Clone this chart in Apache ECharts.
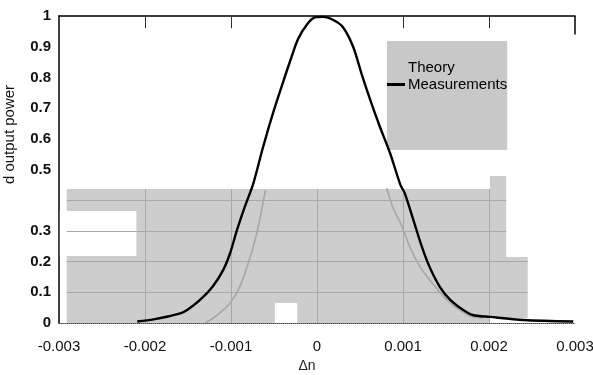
<!DOCTYPE html>
<html>
<head>
    <meta charset="utf-8">
    <script src="https://cdn.jsdelivr.net/npm/echarts@6.0.0/dist/echarts.min.js"></script>
</head>
<body style="margin:0">
<div id="main" style="width:593px;height:375px"></div>
<script type="text/javascript">
    // measured curve (black)
    var measDn = [-0.00209, -0.00190, -0.00172, -0.00158, -0.00151, -0.00136, -0.00121, -0.00109,
        -0.00101, -0.00093, -0.00084, -0.00074, -0.00063, -0.00051, -0.00040, -0.00031, -0.00022,
        -0.00011, -0.00002, 0.00007, 0.00019, 0.00030, 0.00042, 0.00052, 0.00062, 0.00073, 0.00085,
        0.00097, 0.00102, 0.00112, 0.00122, 0.00131, 0.00143, 0.00155, 0.00170, 0.00181, 0.00201,
        0.00240, 0.00298];
    var measPower = [0.005, 0.012, 0.022, 0.032, 0.042, 0.075, 0.12, 0.173,
        0.228, 0.303, 0.378, 0.455, 0.57, 0.685, 0.78, 0.855, 0.925,
        0.975, 0.996, 0.997, 0.987, 0.964, 0.9, 0.81, 0.726, 0.64, 0.553,
        0.45, 0.423, 0.336, 0.248, 0.182, 0.117, 0.075, 0.042, 0.026, 0.02,
        0.01, 0.005];

    // theory curve (grey), only the parts that show in the scan
    var theoryDn = [-0.0013, -0.00116, -0.00101, -0.0009, -0.0008, -0.00072, -0.00066, -0.0006,
        0,
        0.00081, 0.00088, 0.00099, 0.00108, 0.0012, 0.00134, 0.00151, 0.00166, 0.00181, 0.00193];
    var theoryPower = [0, 0.026, 0.065, 0.117, 0.195, 0.27, 0.345, 0.433,
        '-',
        0.44, 0.378, 0.313, 0.248, 0.182, 0.13, 0.075, 0.042, 0.02, 0.016];

    var xTicks = [-0.002, -0.001, 0, 0.001, 0.002];
    var yTicks = [0.1, 0.2, 0.3, 0.4];

    function pairs(xs, ys) {
        return xs.map(function (x, i) { return [x, ys[i]]; });
    }

    // grey scan patches and white holes, [x1, y1, x2, y2] in data units
    var greyPatches = [
        [-0.00291, 0, 0.00201, 0.4365],
        [0.00201, 0.215, 0.0022, 0.479],
        [0.00201, 0.016, 0.00245, 0.215]
    ];
    var whitePatches = [
        [-0.00299, 0.218, -0.0021, 0.365],
        [-0.00049, 0, -0.00023, 0.065]
    ];
    function areas(list) {
        return list.map(function (r) {
            return [{xAxis: r[0], yAxis: r[1]}, {xAxis: r[2], yAxis: r[3]}];
        });
    }

    var gridSegs = [];
    xTicks.forEach(function (x) {
        gridSegs.push([{coord: [x, 0]}, {coord: [x, 0.4365]}]);
    });
    yTicks.forEach(function (y) {
        var end = y < 0.25 ? 0.00245 : 0.0022;
        gridSegs.push([{coord: [-0.00291, y]}, {coord: [end, y]}]);
    });
    // short right border and the top tick marks
    gridSegs.push([{coord: [0.003, 1], lineStyle: {color: '#000', width: 1.5}}, {coord: [0.003, 0.94]}]);
    [-0.002, -0.001, 0.001, 0.002].forEach(function (x) {
        gridSegs.push([{coord: [x, 1], lineStyle: {color: '#333', width: 1}}, {coord: [x, 0.96]}]);
    });

    var font = 'Liberation Sans, Arial, sans-serif';
    var myChart = echarts.init(document.getElementById('main'));

    var option = {
        animation: false,
        grid: {left: 59, right: 18, top: 16, bottom: 52, containLabel: false, outerBoundsMode: 'none'},
        legend: {
            data: [
                {name: 'Theory', itemStyle: {opacity: 0}},
                {name: 'Measurements', itemStyle: {color: '#000'}}
            ],
            icon: 'rect',
            orient: 'vertical',
            left: 387,
            top: 41,
            backgroundColor: '#c8c8c8',
            padding: [19, 0, 58, 0],
            itemGap: 2,
            itemWidth: 18,
            itemHeight: 3,
            textStyle: {fontSize: 15, color: '#000', fontFamily: font, padding: [0, 0, 0, -2]}
        },
        xAxis: [{
            type: 'value',
            min: -0.003,
            max: 0.003,
            interval: 0.001,
            name: 'Δn',
            nameLocation: 'middle',
            nameGap: 36,
            nameTextStyle: {fontSize: 14, color: '#222', fontFamily: font, padding: [0, 20, 0, 0]},
            axisLine: {onZero: false, lineStyle: {color: '#444', width: 1, type: 'dotted'}},
            axisTick: {show: false},
            splitLine: {show: false},
            axisLabel: {fontSize: 15, color: '#111', fontFamily: font, margin: 16}
        }, {
            type: 'value',
            position: 'top',
            min: -0.003,
            max: 0.003,
            interval: 0.001,
            axisLine: {show: true, onZero: false, lineStyle: {color: '#000', width: 1.5}},
            axisTick: {show: false},
            axisLabel: {show: false},
            splitLine: {show: false}
        }],
        yAxis: {
            type: 'value',
            min: 0,
            max: 1,
            interval: 0.1,
            name: 'd output power',
            nameLocation: 'middle',
            nameGap: 42,
            nameTextStyle: {fontSize: 15, color: '#111', fontFamily: font, padding: [0, 0, 0, 70]},
            axisLine: {show: true, onZero: false, lineStyle: {color: '#000', width: 1.5}},
            axisTick: {show: false},
            splitLine: {show: false},
            axisLabel: {
                fontSize: 15, fontWeight: 'bold', color: '#111', fontFamily: font, margin: 8,
                formatter: function (v) { return Math.abs(v - 0.4) < 1e-9 ? '' : String(v); }
            }
        },
        series: [{
            name: 'bg',
            type: 'line',
            data: [],
            z: 1,
            silent: true,
            markArea: {silent: true, itemStyle: {color: '#cdcdcd'}, data: areas(greyPatches)}
        }, {
            name: 'grid',
            type: 'line',
            data: [],
            z: 2,
            silent: true,
            markLine: {
                silent: true,
                symbol: ['none', 'none'],
                label: {show: false},
                lineStyle: {color: '#a8a8a8', width: 1, type: 'solid'},
                data: gridSegs
            }
        }, {
            name: 'holes',
            type: 'line',
            data: [],
            z: 3,
            silent: true,
            markArea: {silent: true, itemStyle: {color: '#fff'}, data: areas(whitePatches)}
        }, {
            name: 'Theory',
            type: 'line',
            z: 4,
            symbol: 'none',
            smooth: 0.3,
            connectNulls: false,
            lineStyle: {color: '#a6a6a6', width: 1.6},
            itemStyle: {color: '#a6a6a6'},
            data: pairs(theoryDn, theoryPower)
        }, {
            name: 'Measurements',
            type: 'line',
            z: 5,
            symbol: 'none',
            smooth: 0.3,
            lineStyle: {color: '#000', width: 2.4},
            itemStyle: {color: '#000'},
            data: pairs(measDn, measPower)
        }]
    };

    myChart.setOption(option);
</script>
</body>
</html>
